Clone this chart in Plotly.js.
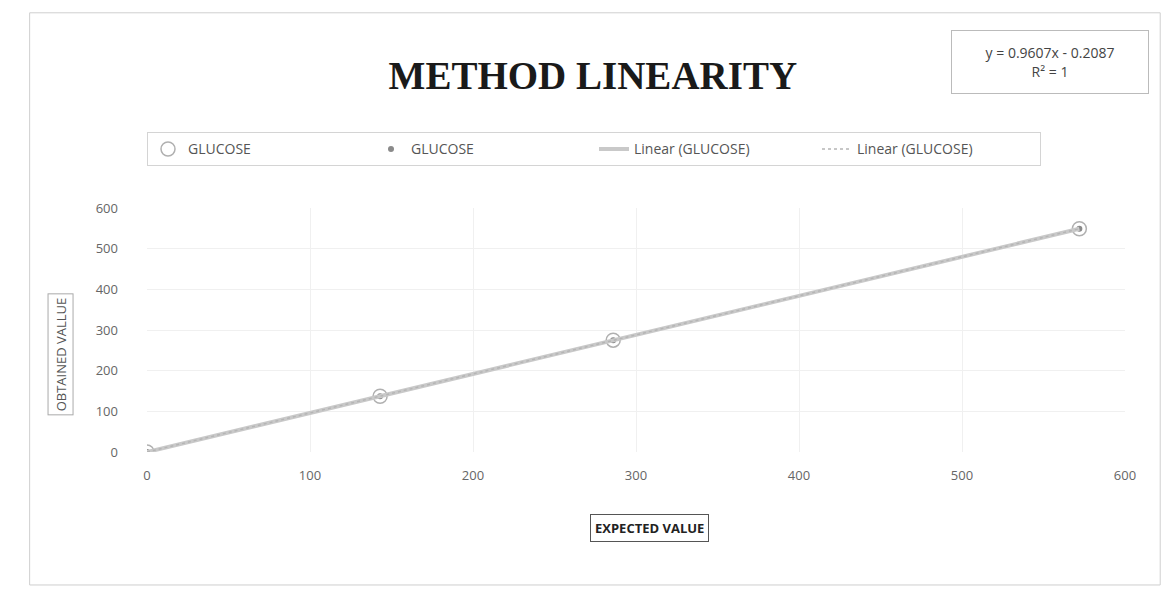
<!DOCTYPE html>
<html>
<head>
<meta charset="utf-8">
<script src="https://cdn.plot.ly/plotly-3.0.1.min.js"></script>
<style>html,body{margin:0;padding:0;background:#fff;}#chart{width:1167px;height:592px;}</style>
</head>
<body>
<div id="chart"></div>
<script>
// Data
const expectedValue = [0, 143, 286, 572];
const obtainedValue = [0, 137, 275, 549];
const seriesNames = ["GLUCOSE", "GLUCOSE", "Linear (GLUCOSE)", "Linear (GLUCOSE)"];
const tickVals = [0, 100, 200, 300, 400, 500, 600];
const trendText = "y = 0.9607x - 0.2087<br>R² = 1";

const tickFont = {family: "Open Sans, sans-serif", size: 13, color: "#666"};

const traces = [
  {x: expectedValue, y: obtainedValue, name: seriesNames[2], mode: "lines", type: "scatter",
   line: {color: "#c9c9c9", width: 4}, hoverinfo: "skip"},
  {x: expectedValue, y: obtainedValue, name: seriesNames[3], mode: "lines", type: "scatter",
   line: {color: "#b5b5b5", width: 1.5, dash: "dot"}, hoverinfo: "skip"},
  {x: expectedValue, y: obtainedValue, name: seriesNames[0], mode: "markers", type: "scatter",
   marker: {symbol: "circle-open", size: 14, color: "#b0b0b0", line: {width: 1.5}}},
  {x: expectedValue, y: obtainedValue, name: seriesNames[1], mode: "markers", type: "scatter",
   marker: {symbol: "circle", size: 6, color: "#8a8a8a"}}
];

// legend order: GLUCOSE, GLUCOSE, Linear, Linear
const ordered = [traces[2], traces[3], traces[0], traces[1]];
ordered.forEach((t, i) => t.legendrank = i + 1);

const layout = {
  width: 1167, height: 592,
  paper_bgcolor: "#fff", plot_bgcolor: "#fff",
  margin: {l: 147, r: 42, t: 208, b: 140},
  title: {text: "<b>METHOD LINEARITY</b>", x: 0.508, xanchor: "center", y: 0.873, yanchor: "middle",
          font: {family: "Liberation Serif, serif", size: 39, color: "#1a1a1a"}},
  showlegend: true,
  legend: {orientation: "h", x: 0, xanchor: "left", y: 1.31, yanchor: "top",
           bordercolor: "#d4d4d4", borderwidth: 1, bgcolor: "#fff",
           font: {family: "Open Sans, sans-serif", size: 14, color: "#555"},
           entrywidth: 178, entrywidthmode: "pixels", traceorder: "normal"},
  xaxis: {range: [0, 600], tickvals: tickVals, showgrid: true, gridcolor: "#f0f0f0",
          zeroline: false, showline: false, tickfont: tickFont, ticklabelstandoff: 14,
          fixedrange: true},
  yaxis: {range: [0, 600], tickvals: tickVals, showgrid: true, gridcolor: "#f0f0f0",
          zeroline: false, showline: false, tickfont: tickFont, ticklabelstandoff: 28,
          fixedrange: true},
  annotations: [
    {text: "OBTAINED VALLUE", xref: "paper", yref: "paper", x: -0.088, y: 0.40,
     xanchor: "center", yanchor: "middle",
     textangle: -90, showarrow: false, bordercolor: "#aaa", borderwidth: 1, borderpad: 3,
     font: {family: "Open Sans, sans-serif", size: 13, color: "#555"}},
    {text: "<b>EXPECTED VALUE</b>", xref: "paper", yref: "paper", x: 0.514, y: -0.31,
     xanchor: "center", yanchor: "middle",
     showarrow: false, bordercolor: "#555", borderwidth: 1, borderpad: 4,
     font: {family: "Open Sans, sans-serif", size: 13, color: "#222"}},
    {text: trendText, xref: "paper", yref: "paper", x: 0.923, y: 1.597,
     xanchor: "center", yanchor: "middle", width: 190, height: 56,
     showarrow: false, bordercolor: "#bbb", borderwidth: 1, borderpad: 3, align: "center",
     font: {family: "Open Sans, sans-serif", size: 14, color: "#444"}}
  ],
  shapes: [
    {type: "rect", xref: "paper", yref: "paper", x0: -0.12, x1: 1.036, y0: -0.545, y1: 1.80,
     line: {color: "#cfcfcf", width: 1}, layer: "below"}
  ]
};

Plotly.newPlot("chart", ordered, layout, {displayModeBar: false, staticPlot: true});
</script>
</body>
</html>
